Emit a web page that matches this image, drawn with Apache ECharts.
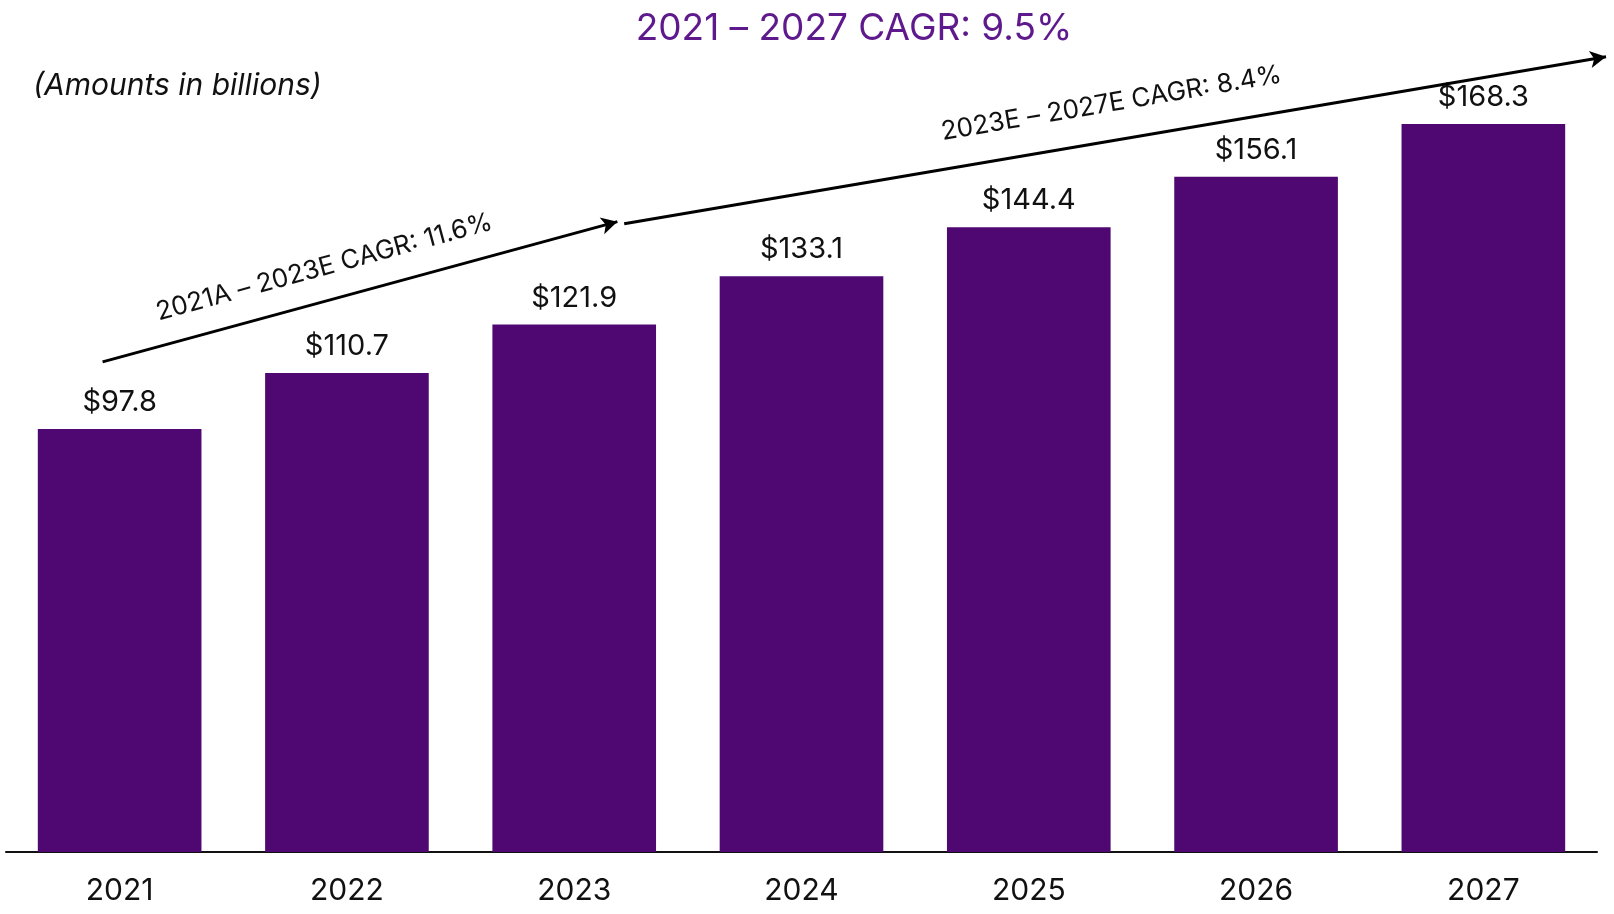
<!DOCTYPE html>
<html>
<head>
<meta charset="utf-8">
<script src="https://cdn.jsdelivr.net/npm/echarts@6/dist/echarts.min.js"></script>
<style>
  html, body { margin: 0; padding: 0; background: #fff; }
  #chart { width: 1614px; height: 914px; }
</style>
</head>
<body>
<div id="chart"></div>
<script>
const years = ['2021', '2022', '2023', '2024', '2025', '2026', '2027'];
const revenue = [97.8, 110.7, 121.9, 133.1, 144.4, 156.1, 168.3];

// CAGR arrows, in [category index, value] space
const arrowEarly = [[-0.075, 113.3], [2.19, 145.7]];
const arrowLate = [[2.22, 145.2], [6.54, 183.8]];
const arrowEarlyText = '2021A – 2023E CAGR: 11.6%';
const arrowLateText = '2023E – 2027E CAGR: 8.4%';
const headline = '2021 – 2027 CAGR: 9.5%';
const note = '(Amounts in billions)';

const FONT = 'Inter, "Open Sans", sans-serif';
const chart = echarts.init(document.getElementById('chart'));

function arrow(pts, text, along, gap) {
  return [{ coord: pts[0], label: { formatter: text, distance: [along, gap] } }, { coord: pts[1] }];
}

chart.setOption({
  animation: false,
  backgroundColor: '#fff',
  grid: [
    { left: 6, right: 17, top: 30, bottom: 62 },
    // same scale as the bar grid, stretched to the right edge for the arrow tip
    { left: 6, right: 0, top: 30, bottom: 62 }
  ],
  graphic: [
    { type: 'text', x: 854, y: 29, style: { text: headline, font: '37px ' + FONT, fill: '#5E1A8C', align: 'center', verticalAlign: 'middle' } },
    { type: 'text', x: 33, y: 86, style: { text: note, font: 'italic 30px ' + FONT, fill: '#111', align: 'left', verticalAlign: 'middle' } }
  ],
  xAxis: [
    {
      type: 'category', data: years, gridIndex: 0,
      axisLine: { lineStyle: { color: '#111', width: 2 } },
      axisTick: { show: false },
      axisLabel: { color: '#111', fontSize: 30, fontFamily: FONT, margin: 24 }
    },
    { type: 'value', gridIndex: 1, min: -0.5, max: 6.575, show: false }
  ],
  yAxis: [
    { type: 'value', gridIndex: 0, min: 0, max: 190, show: false, splitLine: { show: false } },
    { type: 'value', gridIndex: 1, min: 0, max: 190, show: false, splitLine: { show: false } }
  ],
  series: [
    {
      type: 'bar', data: revenue, barCategoryGap: '28%',
      itemStyle: { color: '#4F0872' },
      label: {
        show: true, position: 'top', distance: 12, color: '#111',
        fontSize: 29, fontFamily: FONT,
        formatter: p => '$' + p.value.toFixed(1)
      }
    },
    {
      type: 'line', xAxisIndex: 1, yAxisIndex: 1, data: [], silent: true, clip: false,
      markLine: {
        silent: true, symbol: ['none', 'arrow'], symbolSize: [13, 16],
        lineStyle: { color: '#000', width: 3, type: 'solid' },
        label: { show: true, position: 'insideStartTop', color: '#111', fontSize: 26, fontFamily: FONT },
        data: [arrow(arrowEarly, arrowEarlyText, 65, 20), arrow(arrowLate, arrowLateText, 328, 24)]
      }
    }
  ]
});
</script>
</body>
</html>
